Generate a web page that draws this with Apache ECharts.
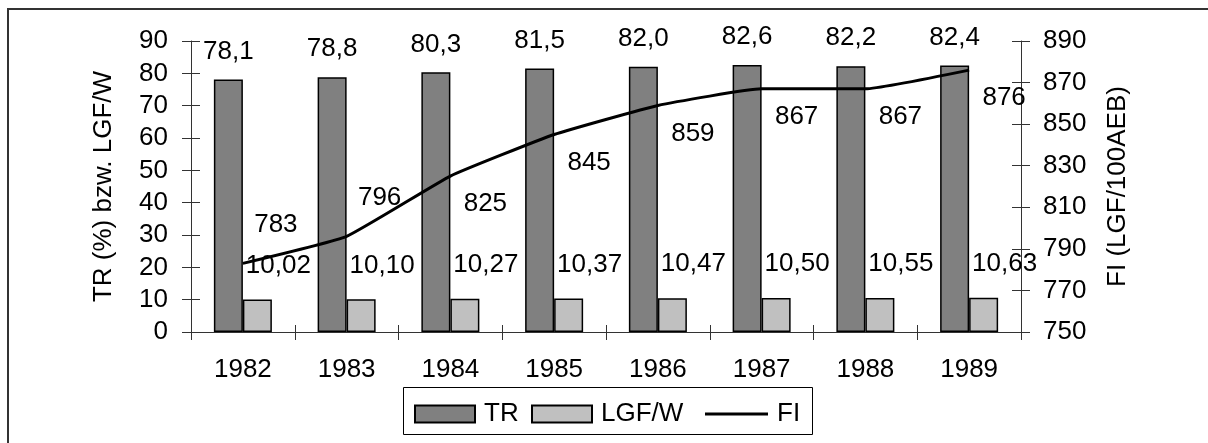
<!DOCTYPE html>
<html>
<head>
<meta charset="utf-8">
<script src="https://cdn.jsdelivr.net/npm/echarts@6/dist/echarts.min.js"></script>
<style>
  html, body { margin: 0; padding: 0; background: #fff; }
  #chart { width: 1208px; height: 443px; }
</style>
</head>
<body>
<div id="chart"></div>
<script>
// Jahre und Kennzahlen
const years = ['1982', '1983', '1984', '1985', '1986', '1987', '1988', '1989'];
const trValues = [78.1, 78.8, 80.3, 81.5, 82.0, 82.6, 82.2, 82.4];
const lgfValues = [10.02, 10.10, 10.27, 10.37, 10.47, 10.50, 10.55, 10.63];
const fiValues = [783, 796, 825, 845, 859, 867, 867, 876];

// Achsenbereiche
const leftAxis = { min: 0, max: 90, interval: 10 };
const rightAxis = { min: 750, max: 890, interval: 20 };

const FONT = '"Liberation Sans", Arial, sans-serif';
const FS = 26;
const AXIS_COLOR = '#333';

const comma = (v, d) => v.toFixed(d).replace('.', ',');

// the first FI labels sit above the line, the others below it
const fiLabelData = fiValues.map((v, i) => ({
  value: [years[i], v],
  label: { offset: i < 2 ? [33, -26] : [35, 41] }
}));

const chart = echarts.init(document.getElementById('chart'), null, { renderer: 'canvas' });

const tickCross = (len) => ({ show: true, inside: true, length: len, lineStyle: { color: AXIS_COLOR, width: 1 } });

// one legend block per entry so that each key sits at its own spot
const legendBase = {
  top: 401,
  padding: 0,
  itemWidth: 60,
  itemHeight: 17,
  textStyle: { fontFamily: FONT, fontSize: FS, color: '#000', padding: [0, 0, 0, 4] }
};

chart.setOption({
  animation: false,
  backgroundColor: '#fff',
  textStyle: { fontFamily: FONT },
  graphic: [{
    type: 'rect',
    shape: { x: 8, y: 9, width: 1400, height: 600 },
    style: { fill: 'none', stroke: '#333', lineWidth: 2 },
    silent: true,
    z: -10
  }, {
    type: 'rect',
    shape: { x: 403.5, y: 387.5, width: 409, height: 47 },
    style: { fill: '#fff', stroke: '#000', lineWidth: 1 },
    silent: true,
    z: -5
  }],
  grid: { left: 191, right: 187, top: 41, bottom: 111, containLabel: false },
  legend: [
    Object.assign({}, legendBase, { left: 414, data: [{ name: 'TR', icon: 'rect' }] }),
    Object.assign({}, legendBase, { left: 531, data: [{ name: 'LGF/W', icon: 'rect' }] }),
    Object.assign({}, legendBase, { left: 705, itemWidth: 63, data: [{ name: 'FI', icon: 'path://M0,0 L60,0 L60,3 L0,3 Z' }] })
  ],
  xAxis: [{
    type: 'category',
    data: years,
    boundaryGap: true,
    axisLine: { show: true, lineStyle: { color: AXIS_COLOR, width: 1 } },
    axisTick: { show: true, length: 8, lineStyle: { color: AXIS_COLOR } },
    axisLabel: { fontFamily: FONT, fontSize: FS, color: '#000', margin: 25 },
    splitLine: { show: false }
  }, {
    type: 'category',
    data: years,
    position: 'bottom',
    boundaryGap: true,
    axisLine: { show: false },
    axisTick: tickCross(7),
    axisLabel: { show: false },
    splitLine: { show: false }
  }],
  yAxis: [{
    type: 'value',
    position: 'left',
    min: leftAxis.min, max: leftAxis.max, interval: leftAxis.interval,
    name: 'TR (%) bzw. LGF/W',
    nameLocation: 'middle',
    nameGap: 74,
    nameRotate: 90,
    nameTextStyle: { fontFamily: FONT, fontSize: FS, color: '#000' },
    axisLine: { show: true, lineStyle: { color: AXIS_COLOR, width: 1 } },
    axisTick: { show: true, length: 9, lineStyle: { color: AXIS_COLOR } },
    axisLabel: { fontFamily: FONT, fontSize: FS, color: '#000', margin: 23 },
    splitLine: { show: false }
  }, {
    type: 'value',
    position: 'right',
    min: rightAxis.min, max: rightAxis.max, interval: rightAxis.interval,
    name: 'FI (LGF/100AEB)',
    nameLocation: 'middle',
    nameGap: 84,
    nameRotate: 90,
    nameTextStyle: { fontFamily: FONT, fontSize: FS, color: '#000' },
    axisLine: { show: true, lineStyle: { color: AXIS_COLOR, width: 1 } },
    axisTick: { show: true, length: 9, lineStyle: { color: AXIS_COLOR } },
    axisLabel: { fontFamily: FONT, fontSize: FS, color: '#000', margin: 22 },
    splitLine: { show: false }
  }, {
    type: 'value',
    position: 'left',
    min: leftAxis.min, max: leftAxis.max, interval: leftAxis.interval,
    axisLine: { show: false },
    axisTick: tickCross(9),
    axisLabel: { show: false },
    splitLine: { show: false }
  }, {
    type: 'value',
    position: 'right',
    min: rightAxis.min, max: rightAxis.max, interval: rightAxis.interval,
    axisLine: { show: false },
    axisTick: tickCross(9),
    axisLabel: { show: false },
    splitLine: { show: false }
  }],
  series: [{
    name: 'TR',
    type: 'bar',
    yAxisIndex: 0,
    data: trValues,
    barWidth: 29,
    barGap: '0%',
    itemStyle: { color: '#808080', borderColor: '#000', borderWidth: 1.5 },
    label: {
      show: true,
      position: 'top',
      distance: 4,
      offset: [0, -11],
      fontFamily: FONT, fontSize: FS, color: '#000',
      formatter: p => comma(p.value, 1)
    },
    z: 2
  }, {
    name: 'LGF/W',
    type: 'bar',
    yAxisIndex: 0,
    data: lgfValues,
    barWidth: 29,
    barGap: '0%',
    itemStyle: { color: '#c0c0c0', borderColor: '#000', borderWidth: 1.5 },
    label: {
      show: true,
      position: 'top',
      distance: 4,
      offset: [21, -17],
      fontFamily: FONT, fontSize: FS, color: '#000',
      formatter: p => comma(p.value, 2)
    },
    z: 2
  }, {
    name: 'FI',
    type: 'line',
    yAxisIndex: 1,
    data: fiValues,
    smooth: 0.12,
    symbol: 'none',
    lineStyle: { color: '#000', width: 3 },
    itemStyle: { color: '#000' },
    z: 3
  }, {
    // value labels of the FI line
    type: 'scatter',
    yAxisIndex: 1,
    data: fiLabelData,
    symbolSize: 0.1,
    itemStyle: { color: '#000', opacity: 1 },
    label: {
      show: true,
      position: 'top',
      distance: 0,
      opacity: 1,
      textBorderWidth: 0,
      fontFamily: FONT, fontSize: FS, color: '#000',
      formatter: p => String(p.value[1])
    },
    emphasis: { disabled: true },
    silent: true,
    z: 4
  }]
});
</script>
</body>
</html>
